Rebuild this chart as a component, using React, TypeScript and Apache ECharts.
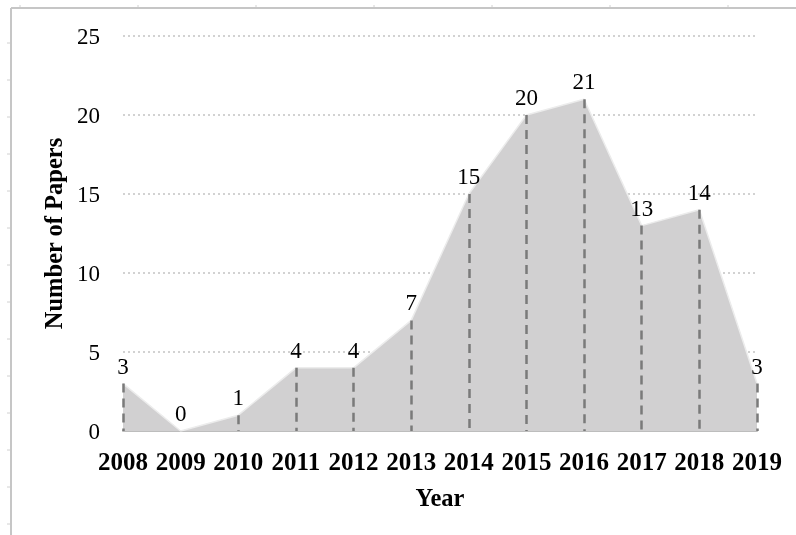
import React, { useEffect, useRef } from "react";
import * as echarts from "echarts";

const years = ["2008", "2009", "2010", "2011", "2012", "2013", "2014", "2015", "2016", "2017", "2018", "2019"];
const papers = [3, 0, 1, 4, 4, 7, 15, 20, 21, 13, 14, 3];
const yTicks = { min: 0, max: 25, interval: 5 };

const FONT = "'Liberation Serif', 'Times New Roman', serif";

export default function App() {
  const ref = useRef<HTMLDivElement>(null);
  useEffect(() => {
    if (!ref.current) return;
    const chart = echarts.init(ref.current, undefined, { renderer: "svg" });

    const frame: any[] = [
      { type: "line", shape: { x1: 11, y1: 8, x2: 796, y2: 8 }, style: { stroke: "#c6c6c6", lineWidth: 2 }, silent: true },
      { type: "line", shape: { x1: 11, y1: 8, x2: 11, y2: 535 }, style: { stroke: "#c6c6c6", lineWidth: 2 }, silent: true },
    ];
    for (let x = 20; x < 796; x += 118) {
      frame.push({ type: "line", shape: { x1: x, y1: 5, x2: x, y2: 7 }, style: { stroke: "#d0d0d0", lineWidth: 1 }, silent: true });
    }
    for (let y = 43; y < 535; y += 37) {
      frame.push({ type: "line", shape: { x1: 7, y1: y, x2: 10, y2: y }, style: { stroke: "#d0d0d0", lineWidth: 1 }, silent: true });
    }

    chart.setOption({
      animation: false,
      textStyle: { fontFamily: FONT, color: "#000" },
      grid: { left: 123, right: 39, top: 36, bottom: 104, containLabel: false },
      graphic: frame,
      xAxis: {
        type: "category",
        data: years,
        boundaryGap: false,
        name: "Year",
        nameLocation: "middle",
        nameGap: 54,
        nameTextStyle: { fontFamily: FONT, fontWeight: "bold", fontSize: 24.5, color: "#000" },
        axisLine: { show: true, lineStyle: { color: "#bdbdbd", width: 2 } },
        axisTick: { show: false },
        axisLabel: { fontFamily: FONT, fontWeight: "bold", fontSize: 25, color: "#000", margin: 18, interval: 0 },
        splitLine: { show: false },
      },
      yAxis: {
        type: "value",
        min: yTicks.min,
        max: yTicks.max,
        interval: yTicks.interval,
        name: "Number of Papers",
        nameLocation: "middle",
        nameGap: 54,
        nameTextStyle: { fontFamily: FONT, fontWeight: "bold", fontSize: 24.5, color: "#000" },
        axisLine: { show: false },
        axisTick: { show: false },
        axisLabel: { fontFamily: FONT, fontSize: 23, color: "#000", margin: 23 },
        splitLine: { show: true, lineStyle: { color: "#c4c4c4", width: 1.5, type: [2, 3] } },
      },
      series: [
        {
          type: "line",
          data: papers,
          symbol: "circle",
          symbolSize: 2,
          showSymbol: true,
          itemStyle: { color: "rgba(0,0,0,0)" },
          lineStyle: { color: "#ececec", width: 1.5 },
          areaStyle: { color: "#d1d0d1", opacity: 1 },
          label: { show: true, position: "top", distance: 5, fontFamily: FONT, fontSize: 23, color: "#000" },
          labelLayout: { hideOverlap: false },
          markLine: {
            silent: true,
            symbol: "none",
            label: { show: false },
            lineStyle: { color: "#7a7a7a", width: 2.5, type: [9, 6] },
            data: papers.map((v, i) => [
              { coord: [i, v] },
              { coord: [i, 0] },
            ]),
          },
          z: 2,
        },
      ],
    });
    return () => chart.dispose();
  }, []);
  return <div ref={ref} style={{ position: "fixed", left: 0, top: 0, width: 796, height: 535 }} />;
}
